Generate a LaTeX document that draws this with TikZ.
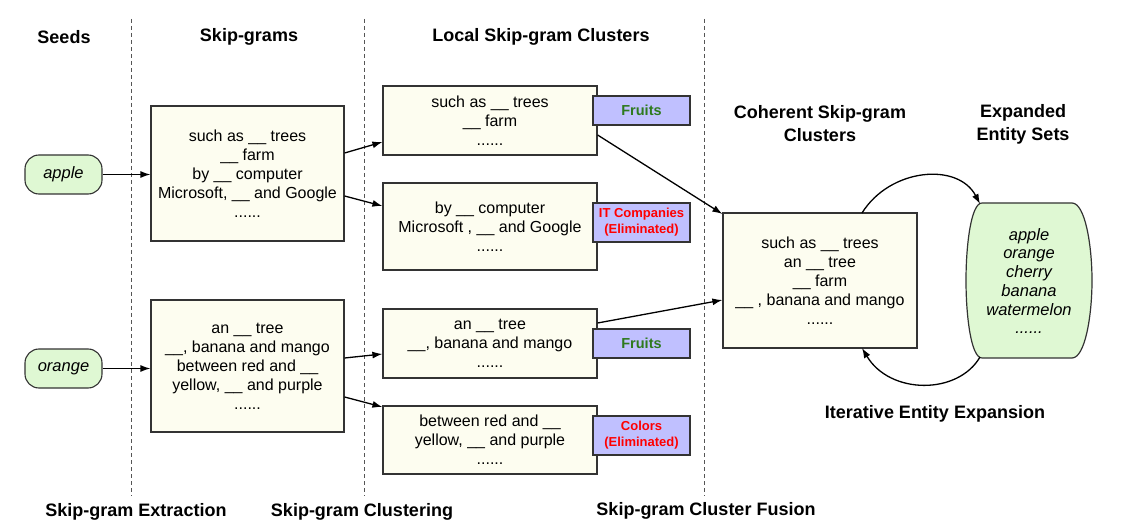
\documentclass[tikz,border=0pt]{standalone}
\usepackage{fontspec}
\setmainfont{Liberation Sans}
\usetikzlibrary{arrows.meta,calc}
\definecolor{seedgreen}{HTML}{DFF8D3}
\definecolor{ivory}{HTML}{FDFDF0}
\definecolor{tagblue}{HTML}{C0C0FF}
\definecolor{fruitgreen}{HTML}{2E7A1E}
\definecolor{linegray}{HTML}{333333}
\definecolor{dashgray}{HTML}{555555}
\begin{document}
\begin{tikzpicture}[x=1pt,y=-1pt,
  box/.style={draw=linegray, line width=1.2pt, fill=ivory, inner sep=0pt, align=center,
    font=\fontsize{16}{19}\selectfont},
  seed/.style={draw=linegray, line width=1.1pt, fill=seedgreen, rounded corners=14pt,
    minimum width=77pt, minimum height=39pt, inner sep=0pt, font=\fontsize{16.5}{19}\selectfont\itshape},
  tag/.style={draw=linegray, line width=1.2pt, fill=tagblue, inner sep=0pt, align=center,
    minimum width=97pt, font=\bfseries\fontsize{13}{16}\selectfont},
  head/.style={align=center, font=\bfseries\fontsize{18}{23}\selectfont},
  sep/.style={draw=dashgray, line width=1pt, dash pattern=on 4pt off 3pt},
  arr/.style={draw=black, line width=1.3pt, -{Latex[length=10pt,width=7pt]}}
]
\useasboundingbox (0,0) rectangle (1127,529);

% separators
\coordinate (s1a) at (131,19); \coordinate (s1b) at (131,496);
\coordinate (s2a) at (364,19); \coordinate (s2b) at (364,496);
\coordinate (s3a) at (704,19); \coordinate (s3b) at (704,496);
\draw[sep] (s1a) -- (s1b);
\draw[sep] (s2a) -- (s2b);
\draw[sep] (s3a) -- (s3b);

% headers
\node[head] (hseeds) at (64,37) {Seeds};
\node[head] (hskip) at (249,37) {Skip-grams};
\node[head] (hlocal) at (541,37) {Local Skip-gram Clusters};
\node[head] (hcoh) at (820,124) {Coherent Skip-gram\\Clusters};
\node[head] (hexp) at (1023,124) {Expanded\\Entity Sets};

\node[head] (bext) at (136,512) {Skip-gram Extraction};
\node[head] (bclu) at (362,512) {Skip-gram Clustering};
\node[head] (bfus) at (706,511) {Skip-gram Cluster Fusion};
\node[head] (biter) at (935,414) {Iterative Entity Expansion};

% seeds
\node[seed] (apple) at (63.5,174.5) {apple};
\node[seed] (orange) at (63.5,368.5) {orange};

% skip-gram boxes
\node[box, minimum width=193pt, minimum height=135pt] (sk1) at (247.5,173.5)
  {such as \_\_ trees\\\_\_ farm\\by \_\_ computer\\Microsoft, \_\_ and Google\\......};
\node[box, minimum width=193pt, minimum height=132pt] (sk2) at (247.5,366)
  {an \_\_ tree\\\_\_, banana and mango\\between red and \_\_\\yellow, \_\_ and purple\\......};

% local clusters
\node[box, minimum width=214pt, minimum height=69pt] (c1) at (490,120.5)
  {such as \_\_ trees\\\_\_ farm\\......};
\node[box, minimum width=214pt, minimum height=87pt] (c2) at (490,226.5)
  {by \_\_ computer\\Microsoft , \_\_ and Google\\......};
\node[box, minimum width=214pt, minimum height=69pt] (c3) at (490,343.5)
  {an \_\_ tree\\\_\_, banana and mango\\......};
\node[box, minimum width=214pt, minimum height=68pt] (c4) at (490,440)
  {between red and \_\_\\yellow, \_\_ and purple\\......};

% tags
\node[tag, minimum height=29pt, text=fruitgreen, font=\bfseries\fontsize{14.5}{16}\selectfont] (t1) at (641.5,110.5) {Fruits};
\node[tag, minimum height=39pt, text=red] (t2) at (641.5,222.5) {IT Companies\\(Eliminated)};
\node[tag, minimum height=29pt, text=fruitgreen, font=\bfseries\fontsize{14.5}{16}\selectfont] (t3) at (641.5,343.5) {Fruits};
\node[tag, minimum height=39pt, text=red] (t4) at (641.5,435.5) {Colors\\(Eliminated)};

% coherent cluster
\node[box, minimum width=194pt, minimum height=135pt] (coh) at (820,280.5)
  {such as \_\_ trees\\an \_\_ tree\\\_\_ farm\\\_\_ , banana and mango\\......};

% expanded entity set
\draw[draw=linegray, line width=1.2pt, fill=seedgreen]
  (982,203) -- (1072,203) .. controls (1085,203) and (1092,245) .. (1092,280.5)
  .. controls (1092,316) and (1085,358) .. (1072,358) -- (982,358)
  .. controls (971,358) and (966,316) .. (966,280.5)
  .. controls (966,245) and (971,203) .. (982,203) -- cycle;
\node[align=center, inner sep=0pt, font=\fontsize{16.5}{18.7}\selectfont\itshape] (ent) at (1029,281)
  {apple\\orange\\cherry\\banana\\watermelon\\......};
\coordinate (enttop) at (980,204);
\coordinate (entbot) at (980,357);
\coordinate (cohtop) at (862,213);
\coordinate (cohbot) at (862,348);

% connectors
\draw[arr] (apple.east) -- (apple.east -| sk1.west);
\draw[arr] (orange.east) -- (orange.east -| sk2.west);
\draw[arr] ([yshift=20.5pt]sk1.east) -- ([yshift=-21.5pt]c1.west);
\draw[arr] ([yshift=-22.5pt]sk1.east) -- ([yshift=20.5pt]c2.west);
\draw[arr] ([yshift=8pt]sk2.east) -- ([yshift=-10.5pt]c3.west);
\draw[arr] ([yshift=-31pt]sk2.east) -- ([yshift=33pt]c4.west);
\draw[arr] ([yshift=-14.5pt]c1.east) -- ([yshift=66.5pt]coh.west);
\draw[arr] ([yshift=20.5pt]c3.east) -- ([yshift=-19.5pt]coh.west);
\draw[arr] (cohtop) .. controls (890,168) and (958,162) .. (enttop);
\draw[arr] (entbot) .. controls (958,395) and (890,395) .. (cohbot);
\end{tikzpicture}
\end{document}
